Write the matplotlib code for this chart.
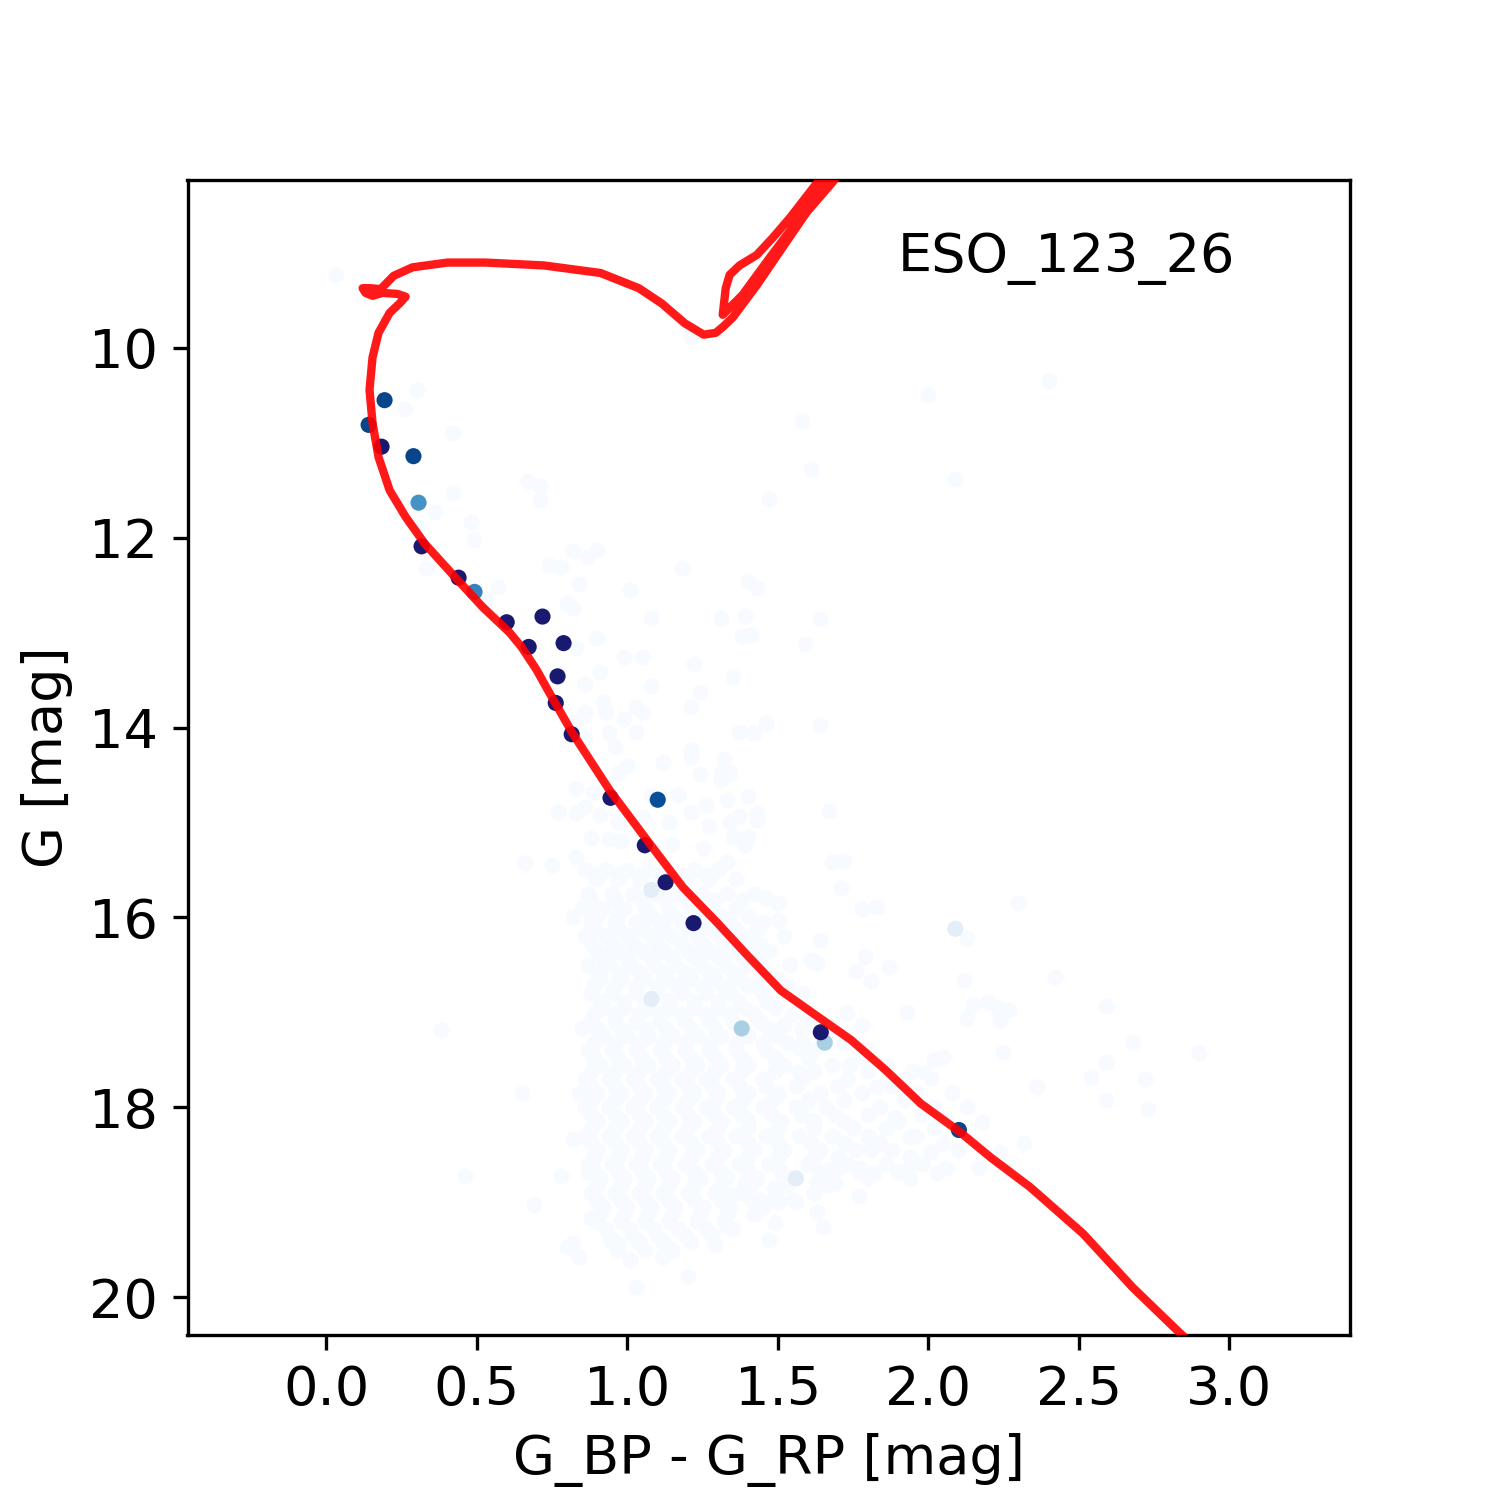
import numpy as np
import matplotlib
matplotlib.use("Agg")
from matplotlib import pyplot as plt
from matplotlib.ticker import MultipleLocator

cluster_name = "ESO_123_26"

# isochrone (colour, magnitude), from the main sequence up to the giant branches
iso_bp_rp = [2.970, 2.827, 2.680, 2.514, 2.338, 2.208, 2.105, 1.975, 1.859, 1.743,
             1.626, 1.510, 1.393, 1.300, 1.184, 1.064, 0.941, 0.818, 0.742, 0.698,
             0.648, 0.609, 0.519, 0.426, 0.326, 0.263, 0.210, 0.173, 0.153, 0.143,
             0.153, 0.173, 0.210, 0.243, 0.263, 0.236, 0.186, 0.153, 0.130, 0.120,
             0.146, 0.180, 0.223, 0.286, 0.402, 0.529, 0.722, 0.911, 1.038, 1.114,
             1.191, 1.254, 1.294, 1.317, 1.350, 1.430, 1.516, 1.596, 1.683, 1.756,
             1.773, 1.716, 1.633, 1.540, 1.483, 1.430, 1.373, 1.340, 1.327, 1.317,
             1.383, 1.473, 1.563, 1.656, 1.729]
iso_g = [20.77, 20.35, 19.90, 19.33, 18.84, 18.53, 18.26, 17.96, 17.61, 17.29,
         17.03, 16.77, 16.38, 16.06, 15.68, 15.18, 14.66, 14.06, 13.64, 13.39,
         13.15, 13.00, 12.73, 12.41, 12.06, 11.78, 11.50, 11.15, 10.79, 10.44,
         10.10, 9.84, 9.63, 9.53, 9.46, 9.43, 9.42, 9.45, 9.42, 9.37,
         9.37, 9.38, 9.24, 9.15, 9.10, 9.10, 9.13, 9.21, 9.37, 9.53,
         9.74, 9.86, 9.84, 9.78, 9.68, 9.34, 8.94, 8.57, 8.25, 7.91,
         7.81, 7.91, 8.25, 8.63, 8.84, 9.02, 9.13, 9.23, 9.37, 9.65,
         9.44, 9.05, 8.67, 8.25, 7.91]

# field stars, scattered part
field_bp_rp = [0.03, 0.30, 0.26, 0.42, 0.42, 0.36, 0.48, 0.49, 0.30, 0.33,
               0.67, 0.71, 0.71, 0.82, 0.74, 0.78, 0.87, 0.90, 0.84, 1.01,
               1.18, 1.47, 1.40, 1.43, 0.80, 0.57, 0.53, 1.08, 1.31, 1.39,
               1.21, 2.00, 2.40, 1.58, 1.61, 2.09, 1.64, 1.59, 1.64, 1.67,
               1.68, 1.72, 0.82, 1.38, 1.41, 0.90, 0.83, 0.99, 1.05, 0.91,
               1.22, 0.86, 1.08, 1.35, 1.24, 1.21, 0.92, 0.86, 0.93, 1.03,
               1.05, 0.99, 0.83, 1.37, 1.42, 1.46, 1.03, 0.94, 0.86, 0.96,
               1.21, 1.21, 1.12, 1.32, 1.00, 0.97, 1.24, 1.31, 1.34, 1.31,
               0.83, 0.89, 1.17, 1.40, 1.08, 0.77, 0.83, 0.86, 0.91, 1.21,
               1.26, 1.33, 1.43, 1.43, 1.37, 1.34, 0.97, 1.05, 1.14, 1.27,
               0.88, 0.94, 0.98, 1.15, 1.25, 1.35, 1.40, 1.39, 0.66, 0.75,
               0.83, 1.33, 1.71, 1.78, 1.83, 0.82, 0.88, 0.85, 0.65, 0.84,
               0.82, 0.87, 0.78, 0.69, 0.88, 0.82, 0.80, 0.84, 0.97, 1.01,
               1.03, 1.12, 1.20, 1.29, 1.33, 1.47, 1.49, 1.65, 1.63, 1.56,
               1.50, 1.77, 1.94, 2.03, 2.06, 2.17, 2.24, 2.32, 2.36, 2.25,
               2.05, 2.02, 2.08, 2.13, 2.18, 2.01, 1.99, 1.93, 2.13, 2.15,
               2.20, 2.23, 2.27, 2.24, 2.12, 2.13, 2.30, 1.87, 1.81, 1.76,
               1.79, 1.64, 1.61, 1.63, 1.50, 1.46, 1.50, 1.44, 1.43, 1.52,
               1.53, 1.57, 1.57, 1.83, 1.78, 1.73, 1.74, 1.89, 1.94, 2.01,
               1.93, 1.81, 1.77, 1.82, 1.63, 1.69, 1.67, 1.71, 1.49, 1.44,
               1.39, 1.34, 1.40, 2.42, 2.59, 2.68, 2.90, 2.59, 2.54, 2.72,
               2.59, 2.73, 0.38, 0.46]
field_g = [9.23, 10.44, 10.64, 10.90, 11.53, 11.73, 11.83, 12.02, 11.89, 12.32,
           11.40, 11.45, 11.60, 12.14, 12.29, 12.31, 12.20, 12.13, 12.49, 12.55,
           12.32, 11.59, 12.46, 12.53, 12.69, 12.52, 12.65, 12.85, 12.85, 12.82,
           9.88, 10.50, 10.35, 10.77, 11.27, 11.38, 12.86, 13.12, 13.97, 14.88,
           15.42, 15.41, 12.74, 13.04, 13.02, 13.06, 13.16, 13.26, 13.26, 13.41,
           13.33, 13.54, 13.56, 13.47, 13.63, 13.78, 13.73, 13.84, 13.84, 13.78,
           13.84, 13.91, 13.94, 14.05, 14.06, 13.95, 14.05, 14.06, 14.11, 14.20,
           14.24, 14.31, 14.36, 14.33, 14.40, 14.48, 14.49, 14.48, 14.48, 14.55,
           14.64, 14.68, 14.71, 14.72, 14.71, 14.89, 14.90, 14.84, 14.92, 14.89,
           14.82, 14.76, 14.97, 14.90, 14.93, 14.99, 14.99, 14.94, 14.99, 15.04,
           15.16, 15.17, 15.20, 15.23, 15.27, 15.15, 15.15, 15.24, 15.43, 15.45,
           15.36, 15.42, 15.69, 15.91, 15.89, 16.00, 16.02, 17.17, 17.85, 17.85,
           18.33, 18.68, 18.72, 19.03, 19.17, 19.43, 19.47, 19.58, 19.43, 19.61,
           19.89, 19.58, 19.78, 19.45, 19.25, 19.40, 19.22, 19.26, 19.10, 19.00,
           19.00, 18.94, 18.75, 18.69, 18.64, 18.64, 18.47, 18.38, 17.79, 17.42,
           17.47, 17.50, 17.85, 18.00, 18.16, 17.69, 17.63, 17.00, 17.06, 16.92,
           16.89, 16.94, 16.98, 17.08, 16.66, 16.22, 15.85, 16.52, 16.67, 16.56,
           16.42, 16.24, 16.45, 16.48, 15.85, 15.80, 16.03, 16.29, 16.72, 17.13,
           17.32, 17.38, 17.63, 17.79, 17.13, 17.01, 17.55, 18.10, 18.31, 18.47,
           18.66, 18.45, 18.64, 18.69, 18.79, 18.80, 18.66, 18.63, 18.85, 18.98,
           18.80, 18.93, 18.66, 16.63, 16.93, 17.31, 17.43, 17.52, 17.68, 17.70,
           17.92, 18.02, 17.19, 18.72]

# field stars, dense core of the cloud (one magnitude row, several colours)
core_g = [15.5, 15.55, 15.6, 15.75, 15.82, 15.9, 15.98, 16.05, 16.12, 16.2,
          16.28, 16.35, 16.42, 16.5, 16.58, 16.65, 16.72, 16.8, 16.88, 16.95,
          17.02, 17.1, 17.18, 17.25, 17.32, 17.4, 17.48, 17.55, 17.62, 17.7,
          17.78, 17.85, 17.92, 18.0, 18.08, 18.15, 18.22, 18.3, 18.38, 18.45,
          18.52, 18.6, 18.68, 18.75, 18.82, 18.9, 18.98, 19.05, 19.12, 19.2,
          19.28, 19.35, 19.42, 19.5]
core_bp_rp = [
    [0.86, 0.93, 1.00, 1.07, 1.15, 1.22, 1.30],
    [0.89, 0.97, 1.04, 1.11, 1.19, 1.26],
    [0.90, 0.97, 1.04, 1.12, 1.19, 1.27, 1.36],
    [0.87, 0.95, 1.02, 1.10, 1.17, 1.25, 1.33, 1.42],
    [0.88, 0.96, 1.05, 1.13, 1.20, 1.29, 1.38],
    [0.85, 0.92, 0.99, 1.06, 1.14, 1.21, 1.28, 1.36],
    [0.90, 0.97, 1.08, 1.15, 1.23, 1.31, 1.40],
    [0.88, 0.96, 1.03, 1.11, 1.18, 1.26, 1.34, 1.45],
    [0.89, 0.97, 1.05, 1.12, 1.20, 1.28, 1.36, 1.43],
    [0.86, 0.93, 1.00, 1.08, 1.15, 1.23, 1.31, 1.38, 1.52],
    [0.88, 0.95, 1.02, 1.10, 1.18, 1.25, 1.32, 1.41],
    [0.90, 0.97, 1.05, 1.12, 1.20, 1.27, 1.35, 1.47],
    [0.92, 1.00, 1.08, 1.15, 1.22, 1.30, 1.38, 1.44],
    [0.87, 0.94, 1.01, 1.09, 1.16, 1.24, 1.32, 1.40, 1.54],
    [0.90, 0.97, 1.04, 1.12, 1.19, 1.27, 1.35, 1.45],
    [0.91, 0.98, 1.06, 1.13, 1.21, 1.29, 1.37, 1.50],
    [0.89, 0.96, 1.03, 1.10, 1.17, 1.25, 1.32, 1.40, 1.53],
    [0.88, 0.95, 1.03, 1.10, 1.18, 1.26, 1.34, 1.45, 1.58],
    [0.91, 0.99, 1.06, 1.14, 1.22, 1.30, 1.37, 1.46],
    [0.92, 0.99, 1.07, 1.14, 1.22, 1.30, 1.39, 1.49],
    [0.89, 0.96, 1.04, 1.11, 1.18, 1.26, 1.34, 1.42, 1.55],
    [0.88, 0.96, 1.03, 1.11, 1.19, 1.27, 1.35, 1.44, 1.60],
    [0.90, 0.98, 1.06, 1.13, 1.21, 1.29, 1.38, 1.47, 1.58],
    [0.92, 1.00, 1.07, 1.15, 1.23, 1.31, 1.40, 1.50, 1.66],
    [0.89, 0.96, 1.04, 1.12, 1.19, 1.27, 1.36, 1.45, 1.58, 1.72],
    [0.87, 0.95, 1.03, 1.11, 1.19, 1.27, 1.36, 1.46, 1.62, 1.80],
    [0.89, 0.97, 1.05, 1.13, 1.21, 1.29, 1.38, 1.49, 1.60, 1.78],
    [0.91, 0.99, 1.07, 1.15, 1.23, 1.31, 1.40, 1.52, 1.68, 1.86],
    [0.88, 0.96, 1.04, 1.13, 1.21, 1.29, 1.38, 1.49, 1.62, 1.80, 1.95],
    [0.86, 0.94, 1.02, 1.10, 1.18, 1.26, 1.35, 1.45, 1.58, 1.73, 1.92],
    [0.88, 0.96, 1.04, 1.12, 1.20, 1.28, 1.37, 1.46, 1.56, 1.70, 1.88],
    [0.90, 0.98, 1.06, 1.14, 1.22, 1.30, 1.40, 1.50, 1.64, 1.78, 1.96],
    [0.88, 0.96, 1.04, 1.12, 1.20, 1.29, 1.38, 1.48, 1.60, 1.72, 1.92],
    [0.86, 0.94, 1.02, 1.10, 1.18, 1.26, 1.35, 1.45, 1.56, 1.66, 1.84, 2.02],
    [0.88, 0.96, 1.04, 1.12, 1.20, 1.29, 1.38, 1.48, 1.58, 1.69, 1.80, 1.98],
    [0.90, 0.98, 1.06, 1.14, 1.22, 1.31, 1.40, 1.51, 1.62, 1.72, 1.90, 2.06],
    [0.88, 0.96, 1.04, 1.12, 1.20, 1.30, 1.40, 1.50, 1.62, 1.75, 1.86, 2.02],
    [0.86, 0.94, 1.02, 1.10, 1.18, 1.27, 1.36, 1.46, 1.57, 1.68, 1.80, 1.96],
    [0.88, 0.96, 1.04, 1.12, 1.21, 1.30, 1.40, 1.50, 1.61, 1.72, 1.84, 2.05],
    [0.90, 0.98, 1.06, 1.14, 1.23, 1.32, 1.42, 1.52, 1.64, 1.76, 1.88, 2.10],
    [0.89, 0.97, 1.05, 1.13, 1.21, 1.30, 1.40, 1.50, 1.62, 1.70, 1.94],
    [0.87, 0.95, 1.03, 1.11, 1.19, 1.28, 1.37, 1.47, 1.60, 1.73, 1.86, 1.98],
    [0.89, 0.97, 1.05, 1.13, 1.22, 1.31, 1.40, 1.51, 1.64, 1.77, 1.90],
    [0.91, 0.99, 1.07, 1.15, 1.24, 1.33, 1.43, 1.55, 1.68, 1.80],
    [0.90, 0.98, 1.06, 1.14, 1.22, 1.31, 1.41, 1.53, 1.66],
    [0.88, 0.96, 1.04, 1.12, 1.20, 1.29, 1.38, 1.49, 1.62],
    [0.90, 0.98, 1.06, 1.14, 1.22, 1.31, 1.41, 1.55],
    [0.92, 1.00, 1.08, 1.16, 1.25, 1.34, 1.45],
    [0.91, 0.99, 1.07, 1.15, 1.24, 1.33, 1.42],
    [0.90, 0.98, 1.06, 1.14, 1.23, 1.32],
    [0.93, 1.01, 1.09, 1.17, 1.26, 1.35],
    [0.94, 1.02, 1.10, 1.19, 1.28],
    [0.95, 1.04, 1.12, 1.21],
    [0.97, 1.06, 1.15],
]

# field stars with a small membership probability
weak_bp_rp = [1.08, 1.08, 1.56, 2.09]
weak_g = [15.71, 16.86, 18.75, 16.12]
weak_prob = [0.1, 0.1, 0.1, 0.1]

# candidate members and their membership probability
memb_bp_rp = [0.193, 0.140, 0.183, 0.289, 0.306, 0.316, 0.439, 0.492, 0.599, 0.718,
              0.672, 0.788, 0.768, 0.762, 0.815, 0.944, 1.101, 1.058, 1.127, 1.220,
              1.380, 1.643, 1.656, 2.102]
memb_g = [10.55, 10.81, 11.04, 11.14, 11.63, 12.09, 12.42, 12.57, 12.89, 12.83,
          13.15, 13.11, 13.46, 13.74, 14.07, 14.74, 14.76, 15.24, 15.63, 16.06,
          17.17, 17.21, 17.32, 18.24]
memb_prob = [0.92, 0.92, 1.0, 0.92, 0.62, 1.0, 1.0, 0.68, 1.0, 1.0,
             1.0, 1.0, 1.0, 1.0, 1.0, 1.0, 0.88, 1.0, 1.0, 1.0,
             0.34, 1.0, 0.34, 0.92]


def prob_color(p):
    if p >= 1.0:
        return "midnightblue"
    return plt.cm.Blues(p)


fig, ax = plt.subplots(figsize=(5, 5), dpi=300)

# background field
core_x = [x for row in core_bp_rp for x in row]
core_y = [g for g, row in zip(core_g, core_bp_rp) for _ in row]
all_x = field_bp_rp + core_x
all_y = field_g + core_y
ax.scatter(all_x, all_y, s=15, color=plt.cm.Blues(0.0), linewidths=0, zorder=1)
ax.scatter(weak_bp_rp, weak_g, s=15, color=[prob_color(p) for p in weak_prob],
           linewidths=0, zorder=2)

# members, most probable on top
order = np.argsort(memb_prob, kind="stable")
ax.scatter(np.array(memb_bp_rp)[order], np.array(memb_g)[order], s=15,
           color=[prob_color(memb_prob[i]) for i in order], linewidths=0, zorder=3)

ax.plot(iso_bp_rp, iso_g, color="red", alpha=0.9, lw=2, zorder=4)

ax.set_xlim(-0.462, 3.402)
ax.set_ylim(20.40, 8.23)
ax.xaxis.set_major_locator(MultipleLocator(0.5))
ax.set_xlabel("G_BP - G_RP [mag]", fontsize=13)
ax.set_ylabel("G [mag]", fontsize=13)
ax.tick_params(labelsize=13)
ax.text(0.611, 0.932, cluster_name, transform=ax.transAxes, fontsize=13, va="center")

fig.savefig("out.png", dpi=300)
